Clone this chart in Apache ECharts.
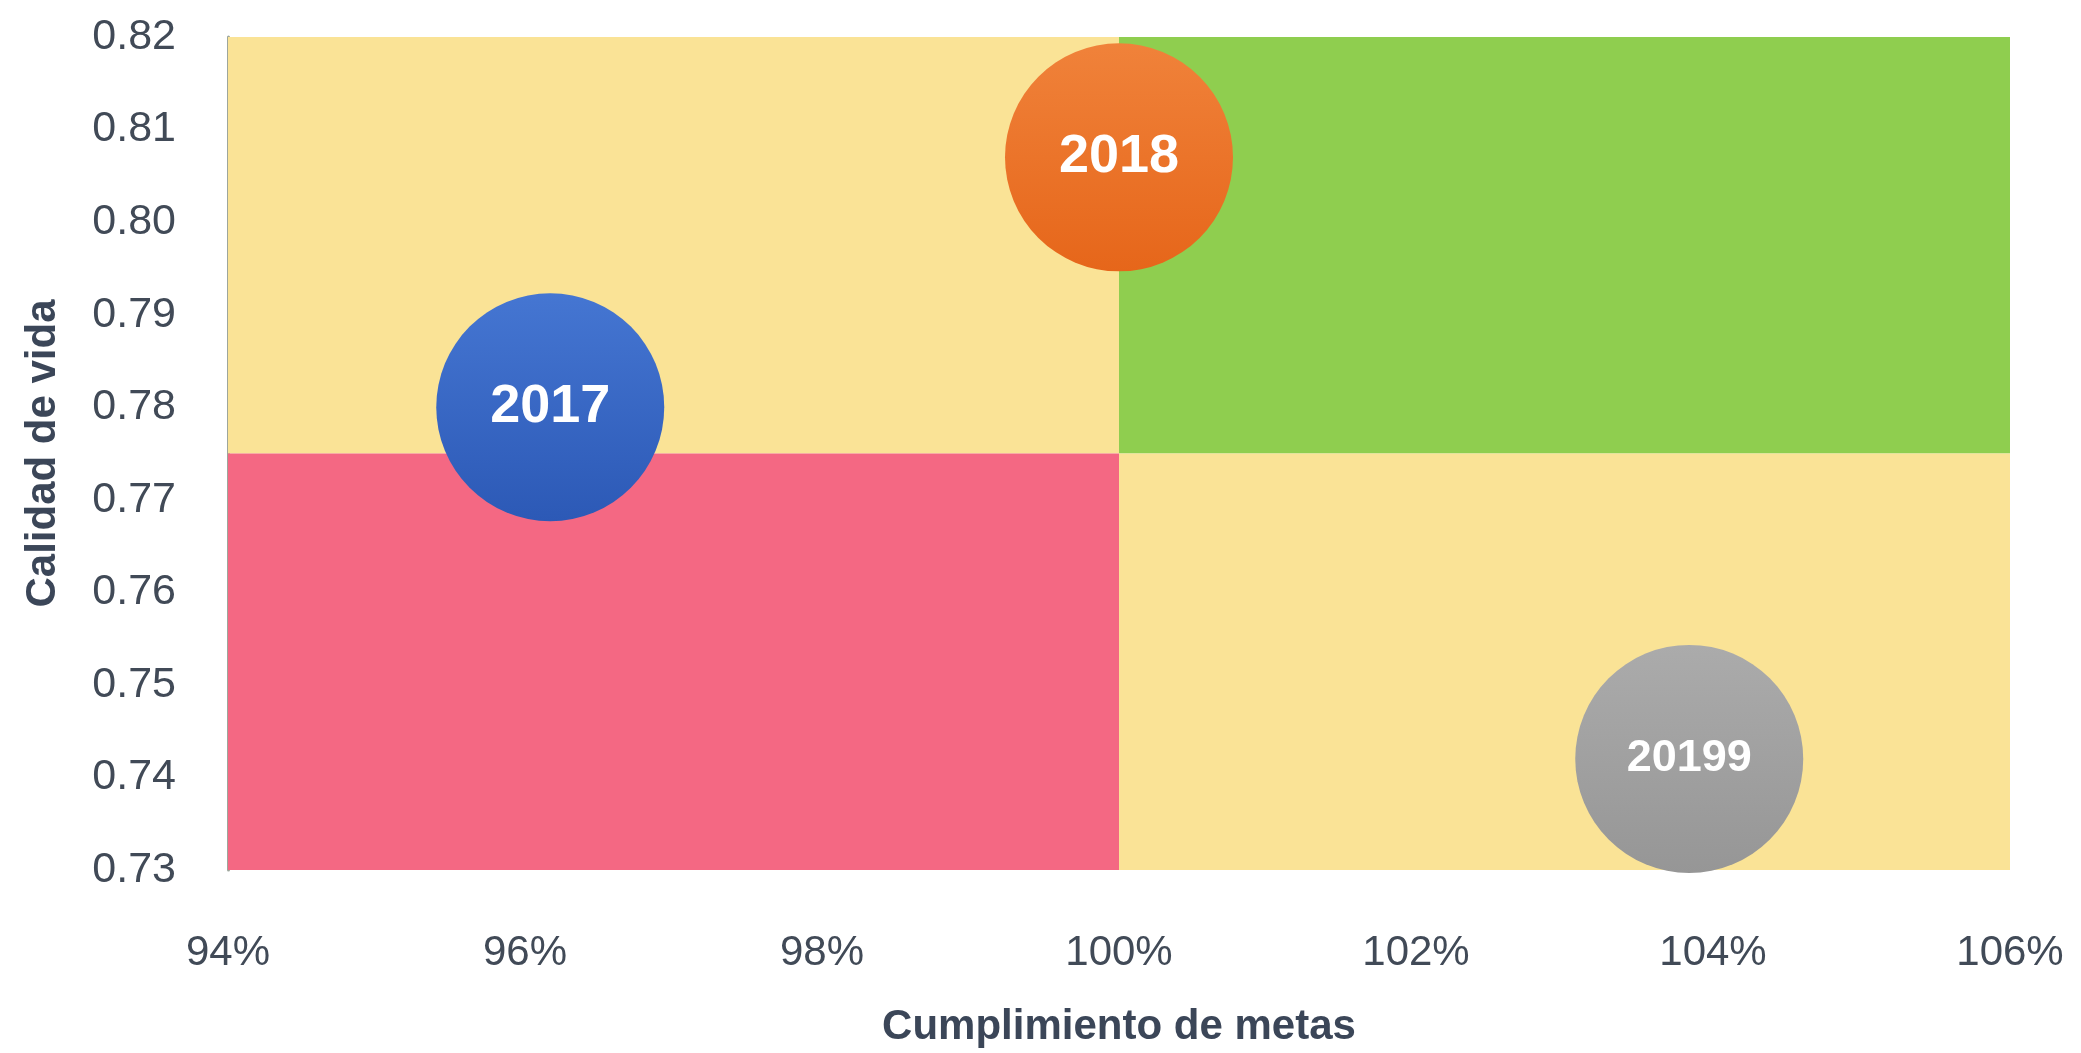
<!DOCTYPE html>
<html>
<head>
<meta charset="utf-8">
<script src="https://cdn.jsdelivr.net/npm/echarts@6/dist/echarts.min.js"></script>
<style>
  html, body { margin: 0; padding: 0; background: #fff; }
  #chart { width: 2081px; height: 1053px; }
</style>
</head>
<body>
<div id="chart"></div>
<script>
// data
const years = ['2017', '2018', '20199']
const cumplimiento = [96.17, 100.0, 103.84]   // x, in %
const calidad = [0.780, 0.807, 0.742]          // y
const bubbleColors = [
  ['#4576D2', '#2C59B6'],
  ['#F0823A', '#E6661A'],
  ['#ABABAB', '#969696'],
]

const xMin = 94, xMax = 106, xStep = 2
const yMin = 0.73, yMax = 0.82, yStep = 0.01
const xSplit = 100
const ySplit = 0.775

const textColor = '#414A57'
const fontFamily = '"Liberation Sans", Arial, sans-serif'

const chart = echarts.init(document.getElementById('chart'))

const quadrant = (x0, y0, x1, y1, color) => [
  { coord: [x0, y0], itemStyle: { color, opacity: 1 } },
  { coord: [x1, y1] },
]

const option = {
  animation: false,
  textStyle: { fontFamily },
  grid: { left: 228, right: 71, top: 37, bottom: 175 },
  xAxis: {
    type: 'value',
    min: xMin,
    max: xMax,
    interval: xStep,
    name: 'Cumplimiento de metas',
    nameLocation: 'middle',
    nameGap: 136,
    nameTextStyle: { color: '#3B4658', fontSize: 42, fontWeight: 'bold', fontFamily },
    axisLine: { show: false },
    axisTick: { show: false },
    splitLine: { show: false },
    axisLabel: {
      color: textColor,
      fontSize: 42,
      margin: 62,
      formatter: (v) => v + '%',
    },
  },
  yAxis: {
    type: 'value',
    min: yMin,
    max: yMax,
    interval: yStep,
    name: 'Calidad de vida',
    nameLocation: 'middle',
    nameGap: 164,
    nameTextStyle: { color: '#3B4658', fontSize: 42, fontWeight: 'bold', fontFamily },
    axisLine: { show: true, lineStyle: { color: '#9EA69C', width: 3 } },
    axisTick: { show: false },
    splitLine: { show: false },
    axisLabel: {
      color: textColor,
      fontSize: 43,
      margin: 52,
      formatter: (v) => v.toFixed(2),
    },
  },
  series: [
    {
      type: 'scatter',
      clip: false,
      z: 5,
      symbolSize: 228,
      itemStyle: { opacity: 1 },
      data: years.map((name, i) => ({
        name,
        value: [cumplimiento[i], calidad[i]],
        itemStyle: {
          opacity: 1,
          color: new echarts.graphic.LinearGradient(0, 0, 0, 1, [
            { offset: 0, color: bubbleColors[i][0] },
            { offset: 1, color: bubbleColors[i][1] },
          ]),
        },
        label: i === 2 ? { fontSize: 45 } : {},
      })),
      label: {
        show: true,
        position: 'inside',
        formatter: (p) => p.name,
        color: '#fff',
        fontSize: 54,
        fontWeight: 'bold',
        fontFamily,
      },
      emphasis: { disabled: true },
      markArea: {
        silent: true,
        z: 1,
        data: [
          quadrant(xMin, ySplit, xSplit, yMax, '#FAE396'),
          quadrant(xSplit, ySplit, xMax, yMax, '#8FCE4F'),
          quadrant(xMin, yMin, xSplit, ySplit, '#F46883'),
          quadrant(xSplit, yMin, xMax, ySplit, '#FAE396'),
        ],
      },
    },
  ],
}

chart.setOption(option)
</script>
</body>
</html>
